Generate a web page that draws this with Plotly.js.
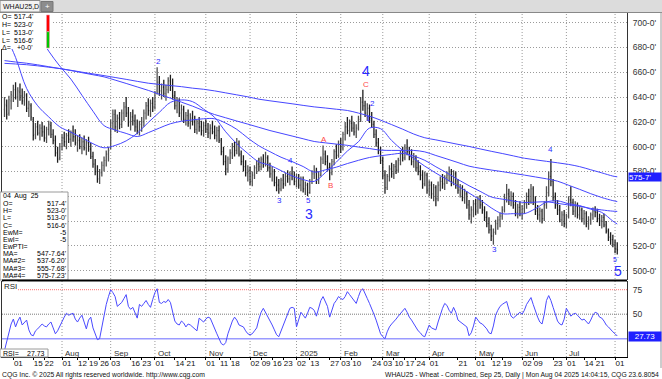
<!DOCTYPE html>
<html><head><meta charset="utf-8">
<script src="https://cdn.plot.ly/plotly-3.0.1.min.js"></script>
<style>html,body{margin:0;padding:0;background:#fff;}#chart{width:662px;height:379px;}</style>
</head><body><div id="chart"></div>
<script>
// ---------------- DATA ----------------
const startDate = '2024-06-25';
const holidays = ['2024-07-04','2024-09-02','2024-11-28','2024-12-25','2025-01-01','2025-01-09','2025-01-20','2025-02-17','2025-04-18','2025-05-26','2025-06-19','2025-07-04'];

const barOpen = [630,633,627,637,641,646,640,644,641,637,641,631,633,622,610,616,611,615,612,607,614,617,610,605,595,591,600,607,604,609,606,611,608,603,605,600,604,599,603,598,592,586,580,574,579,585,589,594,600,619,626,616,623,618,627,632,627,620,624,621,616,613,618,620,627,633,629,635,632,645,652,645,648,643,646,653,649,641,633,637,627,630,622,625,619,623,620,614,619,616,613,617,614,611,615,612,609,613,605,596,588,582,590,595,600,597,602,594,588,584,579,581,572,577,583,586,584,590,587,591,583,578,580,571,569,566,573,570,576,574,578,576,572,575,569,573,566,569,563,572,578,580,573,577,590,594,588,583,579,588,596,593,602,599,610,616,613,619,615,612,615,622,636,633,627,631,623,618,610,603,597,589,577,567,576,582,578,584,581,589,594,591,599,596,592,588,591,583,580,577,570,577,565,569,562,567,558,569,572,570,575,577,580,572,578,569,565,567,559,562,553,545,549,554,548,557,553,549,543,538,533,528,531,538,541,544,549,559,562,557,560,553,547,551,546,550,554,560,556,566,555,548,545,548,542,553,563,576,572,559,553,549,541,545,538,544,557,555,548,552,545,549,542,546,538,541,545,548,547,542,540,543,537,532,527,525,521,517.5];
const barHigh = [640,638,641,645,650,652,648,651,647,645,643,637,635,624,619,621,618,620,617,616,621,620,614,609,600,603,610,612,611,614,613,617,614,609,610,607,609,606,608,603,596,590,585,582,588,592,597,600,622,630,630,626,628,630,636,640,632,628,630,626,622,621,624,630,636,639,638,640,645,664,657,651,654,650,656,658,655,645,640,639,634,633,628,630,627,629,625,622,624,621,620,622,619,618,621,617,616,617,607,600,593,592,598,603,604,607,605,597,593,589,585,584,580,585,589,591,592,594,596,593,587,584,582,576,574,575,578,579,581,580,584,580,578,578,576,576,572,571,574,581,585,583,580,592,601,597,593,587,590,598,602,605,607,612,620,624,622,625,620,618,625,640,646,637,635,634,628,621,614,607,600,592,581,578,585,587,586,589,591,597,600,602,606,600,598,595,593,589,585,581,580,579,573,572,570,569,572,576,578,577,580,584,582,581,580,574,570,569,566,564,557,552,557,558,560,561,557,552,548,543,537,534,541,544,547,552,562,570,566,564,563,557,554,556,553,557,563,566,570,568,560,553,551,550,556,568,580,590,574,563,557,553,548,549,546,560,568,558,556,555,552,551,549,548,544,547,551,552,550,546,545,546,540,534,531,529,525,523];
const barLow = [624,622,625,630,636,638,632,637,634,633,628,624,621,605,606,609,605,608,604,603,609,607,602,592,587,589,597,600,598,603,600,604,601,596,598,594,597,593,596,590,583,577,571,570,576,580,584,588,598,614,612,611,614,615,621,624,616,613,617,612,610,609,612,616,622,625,624,628,630,642,641,638,640,637,643,645,638,630,627,624,621,619,617,616,614,617,611,610,612,609,608,611,607,606,610,606,604,603,593,585,577,579,586,590,592,594,592,585,580,576,572,569,568,574,578,580,581,583,584,580,575,572,568,564,562,564,566,568,571,569,573,569,567,566,564,563,561,560,562,570,574,570,570,576,586,585,580,573,577,585,590,591,595,597,605,610,608,612,609,607,613,620,629,624,621,619,615,607,600,594,586,574,562,565,572,575,574,578,579,585,588,589,593,589,585,583,580,577,573,566,568,562,560,558,556,552,556,564,566,565,570,572,568,569,566,562,559,556,554,550,541,538,543,545,546,550,546,540,535,530,524,521,529,533,535,541,547,555,553,552,550,544,542,544,541,546,550,553,554,553,545,541,539,538,540,550,560,568,556,550,545,539,536,535,534,542,552,545,543,542,541,539,537,535,533,537,541,543,539,536,534,535,530,524,521,519,514,513];
const barClose = [634,626,638,642,646,640,645,641,637,642,631,634,624,609,616,611,615,612,607,614,618,610,605,595,590,600,607,604,609,606,611,608,603,605,600,604,599,603,598,592,586,580,574,579,585,589,594,597,619,626,616,623,618,627,632,627,620,624,621,616,613,618,620,627,633,629,635,632,643,652,645,648,643,646,653,649,641,633,637,627,630,622,625,619,623,620,614,619,616,613,617,614,611,615,612,609,613,605,596,588,582,590,595,600,597,602,594,588,584,579,581,572,577,583,586,584,590,587,591,583,578,580,571,569,566,573,570,576,574,578,576,572,575,569,573,566,569,563,572,578,580,573,577,590,594,588,583,579,588,596,593,602,599,610,616,613,619,615,612,615,622,636,633,627,631,623,618,610,603,597,589,577,567,576,582,578,584,581,589,594,591,599,596,592,588,591,583,580,577,570,577,565,569,562,567,558,569,572,570,575,577,580,572,578,569,565,567,559,562,553,545,549,554,548,557,553,549,543,538,533,528,531,538,541,544,549,559,562,557,560,553,547,551,546,550,554,560,556,566,555,548,545,548,542,553,563,576,572,559,553,549,541,545,538,544,557,555,548,552,545,549,542,546,538,541,545,548,547,542,540,543,537,532,527,525,521,517.5,516.75];
const rsiValues = [13,22,33,40,45,37,43,47,39,41,44,34,29,28,33,35,38,40,38,37,40,42,36,30,33,38,42,47,51,49,50,51,45,42,46,49,42,35,44,47,36,30,24,25,38,47,60,68,75,72,68,58,60,62,66,70,58,55,57,52,46,60,58,61,64,60,57,65,72,76,62,61,63,62,65,62,52,43,40,39,43,41,37,40,39,37,34,33,46,44,42,45,47,46,40,34,30,25,20,18.5,21,30,37,43,47,44,39,38,37,33,30,29,30,33,36,45,52,56,52,47,43,39,34,29,27,33,40,45,51,56,57,56,37,45,52,49,46,51,57,56,54,48,55,64,68,62,58,47,55,61,64,68,66,65,68,73,70,67,63,61,68,74,76,70,66,61,56,50,44,37,30,27,25,32,37,40,42,45,48,51,53,56,52,47,44,40,37,33,31,28,27,33,39,36,35,34,42,50,56,61,59,54,51,57,52,44,42,40,38,37,28,31,38,47,44,41,40,38,35,31,30,38,49,54,58,60,62,63,55,48,46,48,51,52,50,54,60,64,67,60,53,47,42,40,50,64,69,64,57,50,43,40,39,45,56,52,48,50,51,49,47,44,45,42,40,44,49,52,51,47,46,43,39,37,34,32,30,27.73];

// moving averages read every 5th bar (plus the last bar)
const maSampleStep = 5;
const maValues  = [720,712,704,691,677,665,654.5,641.5,628.6,617,613.5,610.7,608.2,611.3,615,618.5,620.5,621.6,622.5,622.5,619,614,607,600.7,596,591.5,588,584,579.5,581.3,583.5,586.4,589,591.3,592.7,593.8,594.6,592.4,589,583.8,578.9,573.5,568.5,564,559.5,557.7,556.2,555,555.3,555.6,554.3,553,552,550.2,549,548,547.8];
const ma2Values = [692,672,647,633,624,616,611.7,607.2,602.4,599.1,601,604.7,610.8,619.6,627.7,635.7,637.7,636.3,630.3,623.6,612,602.4,594.5,587.7,585,580.7,576.5,573.5,572,579,587.5,596.5,604,615,614.5,605,597,590.5,584.3,578.7,573.5,568.2,562.6,557.1,550.7,546,546,546,550,555.3,556.3,554,552.5,549.6,547,540,537.6];
const ma3Values = [669.4,668.3,667.3,666,664.5,663,661.4,659.7,658,656.3,653.7,651,648.2,645.4,642.3,639.1,635.9,632.7,629.1,625.9,623.3,620.7,618.2,615.6,613,610.8,608.6,606.4,604.2,603.1,602.1,601.1,599.7,598.5,597.2,597,597,597,595.8,592.9,590.1,587.2,584.3,582.6,581.2,579.9,578.5,577.1,575.6,574.1,572.2,568.9,565.6,562.1,559,556.5,555.77];
const ma4Values = [667.2,666.7,666.1,665.2,664.1,663,661.6,660.1,658.7,657.3,655.8,654.3,652.7,651.2,650.2,649.3,648.4,647.2,646.3,645,643.4,641.8,640.2,638.3,637,635.8,634.6,633.3,632.1,631.2,630.2,629.2,627.1,624.6,621.4,617.8,614.1,610.2,607.2,605.5,603.7,601.9,600.2,598.2,596.3,594.5,592.6,590.7,589.4,588.2,587,585.7,583.9,581.4,578.9,576.3,575.72];

const priceTicks = [500,520,540,560,580,600,620,640,660,680,700];
const rsiTicks = [50,75];
const dayTickDates = ['2024-07-01','2024-07-15','2024-07-22','2024-08-01','2024-08-12','2024-08-19','2024-08-26','2024-09-03','2024-09-16','2024-09-23','2024-10-01','2024-10-14','2024-10-21','2024-11-01','2024-11-11','2024-11-18','2024-12-02','2024-12-09','2024-12-16','2024-12-23','2025-01-02','2025-01-13','2025-01-27','2025-02-03','2025-02-10','2025-02-24','2025-03-03','2025-03-10','2025-03-17','2025-03-24','2025-04-01','2025-04-21','2025-05-01','2025-05-12','2025-05-19','2025-06-02','2025-06-09','2025-06-23','2025-07-01','2025-07-14','2025-07-21','2025-08-01'];
const dayTickText = ['01','15','22','01','12','19','26','03','16','23','01','14','21','01','11','18','02','09','16','23','02','13','27','03','10','24','03','10','17','24','01','21','01','12','19','02','09','23','01','14','21','01'];
const monthDates = ['2024-08-01','2024-09-03','2024-10-01','2024-11-01','2024-12-02','2025-01-02','2025-02-03','2025-03-03','2025-04-01','2025-05-01','2025-06-02','2025-07-01','2025-08-01'];
const monthText = ['Aug','Sep','Oct','Nov','Dec','2025','Feb','Mar','Apr','May','Jun','Jul',''];

const headerLabels = ['O=','H=','L=','L=','\u0394='];
const headerValues = ["517-4'","523-0'","513-0'","516-6'","+0-0'"];
const boxLabels = ['04  Aug  25','O=','H=','L=','C=','EwM=','EwI=','EwPTI=','MA=','MA#2=','MA#3=','MA#4='];
const boxValues = ['',"517-4'","523-0'","513-0'","516-6'",'-5','-5','',"547-7.64'","537-6.20'","555-7.68'","575-7.23'"];
const waveLabels = [
  {i:69.5,p:668.6,t:'2',c:'b',s:8},{i:124.5,p:557,t:'3',c:'b',s:8},{i:129.5,p:588.5,t:'4',c:'b',s:8},
  {i:137.3,p:557,t:'5',c:'b',s:8},{i:137.7,p:545.5,t:'3',c:'b',s:14},{i:144.5,p:606.2,t:'A',c:'r',s:8},
  {i:147.5,p:568.5,t:'B',c:'r',s:8},{i:163.3,p:661,t:'4',c:'b',s:14},{i:163.3,p:650.2,t:'C',c:'r',s:8},
  {i:166.5,p:635,t:'2',c:'b',s:8},{i:164.5,p:623,t:'1',c:'b',s:8},{i:221.3,p:516.7,t:'3',c:'b',s:8},
  {i:247,p:598,t:'4',c:'b',s:8},{i:276.6,p:509.5,t:'5<sup>-</sup>',c:'b',s:7},{i:277.2,p:500,t:'5',c:'b',s:14}
];

// ---------------- BUILD ----------------
function tradingDays(start, n, hol){
  const out=[]; const d=new Date(start+'T00:00:00Z'); const hs=new Set(hol);
  while(out.length<n){ const dow=d.getUTCDay(); const s=d.toISOString().slice(0,10);
    if(dow!==0&&dow!==6&&!hs.has(s)) out.push(s); d.setUTCDate(d.getUTCDate()+1);} return out;
}
const dates = tradingDays(startDate, barClose.length, holidays);
const maIdx=[]; for(let i=0;i<dates.length;i+=maSampleStep) maIdx.push(i);
if(maIdx[maIdx.length-1]!==dates.length-1) maIdx.push(dates.length-1);
const maDates = maIdx.map(i=>dates[i]);
function fracDate(i){ const f=Math.floor(i); const t=Date.parse(dates[Math.min(f,dates.length-1)]+'T00:00:00Z')+(i-f)*86400000;
  return new Date(t).toISOString().replace('T',' ').slice(0,19); }

const W=662,H=379,ML=2,MR=35,MT=13,MB=22, PW=W-ML-MR, PH=H-MT-MB;
const px=x=>(x-ML)/PW, py=y=>(H-MB-y)/PH;
const FONT='Liberation Sans, Arial, Helvetica, sans-serif';
const BLUE='#4646ff';

const traces=[
 {type:'ohlc',x:dates,open:barOpen,high:barHigh,low:barLow,close:barClose,xaxis:'x',yaxis:'y',
  increasing:{line:{color:'#505050',width:1.3}},decreasing:{line:{color:'#1e1e1e',width:1.3}},tickwidth:0.35,hoverinfo:'skip'},
 {type:'scatter',mode:'lines',x:maDates,y:ma4Values,line:{color:BLUE,width:1,shape:'spline'},xaxis:'x',yaxis:'y',hoverinfo:'skip'},
 {type:'scatter',mode:'lines',x:maDates,y:ma3Values,line:{color:BLUE,width:1,shape:'spline'},xaxis:'x',yaxis:'y',hoverinfo:'skip'},
 {type:'scatter',mode:'lines',x:maDates,y:maValues,line:{color:BLUE,width:1,shape:'spline'},xaxis:'x',yaxis:'y',hoverinfo:'skip'},
 {type:'scatter',mode:'lines',x:maDates,y:ma2Values,line:{color:BLUE,width:1,shape:'spline'},xaxis:'x',yaxis:'y',hoverinfo:'skip'},
 {type:'scatter',mode:'lines',x:dates,y:rsiValues,line:{color:'#4a4aff',width:1},xaxis:'x',yaxis:'y2',hoverinfo:'skip'}
];

const shapes=[], ann=[];
function rectPx(x0,y0,x1,y1,fill,line){shapes.push({type:'rect',xref:'paper',yref:'paper',x0:px(x0),x1:px(x1),y0:py(y1),y1:py(y0),fillcolor:fill,line:line||{width:0},layer:'above'});}
function linePx(x0,y0,x1,y1,color,width,dash,layer){shapes.push({type:'line',xref:'paper',yref:'paper',x0:px(x0),x1:px(x1),y0:py(y0),y1:py(y1),line:{color,width,dash:dash||'solid'},layer:layer||'above'});}
function txt(x,y,text,o){o=o||{}; const a={xref:'paper',yref:'paper',x:px(x),y:py(y),text,showarrow:false,
  xanchor:o.xa||'left',yanchor:'middle',font:{family:FONT,size:o.size||8,color:o.color||'#000'},borderpad:0};
  if(o.bg) a.bgcolor=o.bg; ann.push(a);}

// month gridlines
monthDates.forEach(d=>shapes.push({type:'line',xref:'x',yref:'paper',x0:d,x1:d,y0:0,y1:1,line:{color:'#9a9a9a',width:1,dash:'1px,2px'},layer:'below'}));
// RSI level lines
shapes.push({type:'line',xref:'paper',yref:'y2',x0:px(18),x1:1,y0:75,y1:75,line:{color:'#ff8c8c',width:1.3,dash:'1px,1px'},layer:'below'});
shapes.push({type:'line',xref:'paper',yref:'y2',x0:0,x1:1,y0:50,y1:50,line:{color:'#7a7a7a',width:1,dash:'1px,1px'},layer:'below'});
shapes.push({type:'line',xref:'paper',yref:'y2',x0:0,x1:1,y0:25,y1:25,line:{color:'#9a9aff',width:1.5,dash:'solid'},layer:'below'});

// header strip and tabs
rectPx(0,0,662,12,'#dcdcdc');
rectPx(0,0.5,40,12,'#f2f2f2',{color:'#8a8a8a',width:1});
rectPx(41,1.5,53,11.5,'#8c8c8c',{color:'#777',width:1});
txt(2,6.5,'WHAU25,D',{size:7,color:'#111'});
txt(47,6.5,'+',{size:8,color:'#fff',xa:'center'});
linePx(0,12.5,662,12.5,'#888',1);
// info box top-left
rectPx(0,13,51,49,'#ffffff');
const hdrY=[16.3,24.3,32.3,40,47.8];
headerLabels.forEach((l,k)=>{txt(1,hdrY[k],l,{size:7}); txt(33.5,hdrY[k],headerValues[k],{size:7,xa:'right'});});
rectPx(46.5,15,49.5,31.7,'#ff0000',{color:'#e898b0',width:0.6});
rectPx(46.5,31.7,49.5,48,'#00c800',{color:'#e898b0',width:0.6});
// data box bottom-left
rectPx(0,192,68,280,'#ffffff',{color:'#9a9a9a',width:1});
boxLabels.forEach((l,k)=>{const y=196.5+k*7.15; txt(2,y,l,{size:7}); if(boxValues[k]) txt(67,y,boxValues[k],{size:7,xa:'right'});});
// panel separator and borders
linePx(2,280.5,627,280.5,'#000',2);
linePx(661,12,661,368,'#9a9a9a',1);
// price label box
ann.push({xref:'paper',yref:'y',x:px(628),y:ma4Values[ma4Values.length-1],text:"575-7'",showarrow:false,xanchor:'left',yanchor:'middle',
  font:{family:FONT,size:8,color:'#fff'},bgcolor:'#1f1fff',width:32,height:8,align:'left',borderpad:0});
// RSI labels
txt(3,286.5,'RSI',{size:8,color:'#222',bg:'#fff'});
rectPx(0,349,48,357,'#ffffff',{color:'#9a9a9a',width:1});
txt(2,353,'RSI=',{size:7}); txt(46,353,'27.73',{size:7,xa:'right'});
ann.push({xref:'paper',yref:'y2',x:px(628),y:rsiValues[rsiValues.length-1],text:'27.73',showarrow:false,xanchor:'left',yanchor:'middle',
  font:{family:FONT,size:8,color:'#fff'},bgcolor:'#1f1fff',width:32,align:'center',borderpad:0});
// month labels
monthDates.forEach((d,k)=>{ if(monthText[k]) ann.push({xref:'x',yref:'paper',x:d,y:py(353.5),text:monthText[k],showarrow:false,xanchor:'left',yanchor:'middle',xshift:1,font:{family:FONT,size:8,color:'#333'}});});
// Elliott wave labels
waveLabels.forEach(w=>ann.push({xref:'x',yref:'y',x:fracDate(w.i),y:w.p,text:w.t,showarrow:false,xanchor:'center',yanchor:'middle',
  font:{family:FONT,size:w.s,color:w.c==='r'?'#ff4848':'#2a2aff'}}));
// footer
txt(1,374.5,'CQG Inc. \u00a9 2025 All rights reserved worldwide. http://www.cqg.com',{size:6.8,color:'#111'});
txt(660,374.5,'WHAU25 - Wheat - Combined, Sep 25, Daily | Mon Aug 04 2025 14:04:15, CQG 23.6.8054',{size:6.8,color:'#111',xa:'right'});

const layout={
 width:W,height:H,margin:{l:ML,r:MR,t:MT,b:MB,pad:0},paper_bgcolor:'#fff',plot_bgcolor:'#fff',showlegend:false,hovermode:false,
 font:{family:FONT,size:8,color:'#222'},
 xaxis:{type:'date',anchor:'y2',rangeslider:{visible:false},rangebreaks:[{bounds:['sat','mon']},{values:holidays}],range:['2024-06-21 20:53','2025-08-08 09:36'],
   tickmode:'array',tickvals:dayTickDates,ticktext:dayTickText,ticks:'outside',ticklen:2,tickcolor:'#000',tickwidth:1,tickangle:0,ticklabelshift:5,ticklabelstandoff:-4,
   tickfont:{family:FONT,size:8,color:'#111'},showgrid:false,zeroline:false,showline:true,linecolor:'#000',linewidth:1,fixedrange:true},
 yaxis:{domain:[py(280),1],range:[492.5,707.8],side:'right',anchor:'x',tickmode:'array',tickvals:priceTicks,ticktext:priceTicks.map(v=>v+"-0'"),
   ticks:'',ticklabelstandoff:3,tickfont:{family:FONT,size:8.5,color:'#333'},showgrid:true,gridcolor:'#9a9a9a',gridwidth:1,griddash:'1px,2px',
   zeroline:false,showline:true,linecolor:'#333',mirror:true,fixedrange:true},
 yaxis2:{domain:[0,py(281)],range:[6.3,83.9],side:'right',anchor:'x',tickmode:'array',tickvals:rsiTicks,ticktext:rsiTicks.map(String),
   ticks:'',ticklabelstandoff:3,tickfont:{family:FONT,size:8.5,color:'#333'},showgrid:false,zeroline:false,showline:true,linecolor:'#333',mirror:true,fixedrange:true},
 shapes,annotations:ann
};
Plotly.newPlot('chart',traces,layout,{staticPlot:true,displayModeBar:false});
</script></body></html>
